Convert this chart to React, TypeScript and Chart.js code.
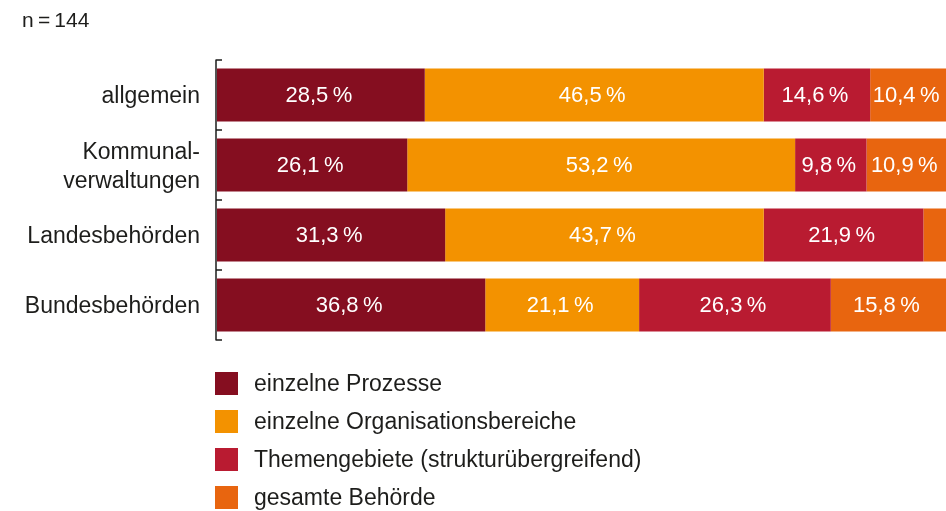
import React, { useEffect, useRef } from "react";
import { Chart, registerables } from "chart.js";

Chart.register(...registerables);

const categories: (string | string[])[] = [
  "allgemein",
  ["Kommunal-", "verwaltungen"],
  "Landesbehörden",
  "Bundesbehörden",
];
const seriesNames = [
  "einzelne Prozesse",
  "einzelne Organisationsbereiche",
  "Themengebiete (strukturübergreifend)",
  "gesamte Behörde",
];
const seriesColors = ["#850e20", "#f39200", "#b91b31", "#e8650f"];
const einzelneProzesse = [28.5, 26.1, 31.3, 36.8];
const einzelneOrganisationsbereiche = [46.5, 53.2, 43.7, 21.1];
const themengebiete = [14.6, 9.8, 21.9, 26.3];
const gesamteBehoerde = [10.4, 10.9, 3.1, 15.8];
const seriesValues = [einzelneProzesse, einzelneOrganisationsbereiche, themengebiete, gesamteBehoerde];
const sampleNote = "n\u2009=\u2009144";

const FONT = "'Liberation Sans', Arial, Helvetica, sans-serif";
const TEXT = "#1d1d1b";

const valueLabels = {
  id: "valueLabels",
  afterDatasetsDraw(chart: any) {
    const ctx = chart.ctx;
    ctx.save();
    ctx.font = `22px ${FONT}`;
    ctx.fillStyle = "#ffffff";
    ctx.textAlign = "center";
    ctx.textBaseline = "middle";
    chart.data.datasets.forEach((ds: any, di: number) => {
      const meta = chart.getDatasetMeta(di);
      meta.data.forEach((bar: any, i: number) => {
        const v = ds.data[i];
        if (v < 5) return;
        const x = (bar.x + bar.base) / 2 - 2;
        ctx.fillText(v.toFixed(1).replace(".", ",") + "\u2009%", x, bar.y + 1);
      });
    });
    ctx.restore();
  },
};

const axisPlugin = {
  id: "axisPlugin",
  afterDatasetsDraw(chart: any) {
    const ctx = chart.ctx;
    const { top, bottom, left } = chart.chartArea;
    ctx.save();
    ctx.strokeStyle = TEXT;
    ctx.lineWidth = 1.5;
    ctx.beginPath();
    ctx.moveTo(left - 1, top);
    ctx.lineTo(left - 1, bottom);
    const n = chart.data.labels.length;
    const step = (bottom - top) / n;
    for (let i = 0; i <= n; i++) {
      const y = top + step * i;
      ctx.moveTo(left - 1.5, y);
      ctx.lineTo(left + 5, y);
    }
    ctx.stroke();

    // category labels
    const yScale = chart.scales.y;
    ctx.font = `23px ${FONT}`;
    ctx.fillStyle = TEXT;
    ctx.textAlign = "right";
    ctx.textBaseline = "middle";
    const lh = 29;
    chart.data.labels.forEach((lab: any, i: number) => {
      const lines = Array.isArray(lab) ? lab : [lab];
      const cy = yScale.getPixelForValue(i) + 2;
      lines.forEach((ln: string, k: number) => {
        const y = cy + (k - (lines.length - 1) / 2) * lh;
        ctx.fillText(ln, left - 17, y);
      });
    });
    ctx.restore();
  },
};

export default function App() {
  const ref = useRef<HTMLCanvasElement>(null);
  useEffect(() => {
    document.body.style.margin = "0";
    const chart = new Chart(ref.current!, {
      type: "bar",
      data: {
        labels: categories,
        datasets: seriesNames.map((name, i) => ({
          label: name,
          data: seriesValues[i],
          backgroundColor: seriesColors[i],
          borderWidth: 0,
          categoryPercentage: 1,
          barPercentage: 53 / 70,
        })),
      },
      options: {
        indexAxis: "y",
        animation: false,
        responsive: false,
        maintainAspectRatio: false,
        layout: { padding: { top: 60, bottom: 171, left: 0, right: 0 } },
        plugins: { legend: { display: false }, tooltip: { enabled: false } },
        scales: {
          x: { stacked: true, min: 0, max: 100, display: false },
          y: {
            stacked: true,
            border: { display: false },
            grid: { display: false },
            ticks: { display: false },
            afterFit: (scale: any) => {
              scale.width = 217;
            },
          },
        },
      },
      plugins: [valueLabels, axisPlugin],
    });
    return () => chart.destroy();
  }, []);

  return (
    <div style={{ position: "relative", width: 946, height: 511, overflow: "hidden", fontFamily: FONT, color: TEXT }}>
      <canvas ref={ref} width={946} height={511} style={{ position: "absolute", left: 0, top: 0 }} />
      <div style={{ position: "absolute", left: 22, top: 8, fontSize: 21 }}>{sampleNote}</div>
      <div style={{ position: "absolute", left: 215, top: 371 }}>
        {seriesNames.map((name, i) => (
          <div key={name} style={{ display: "flex", alignItems: "center", height: 38, marginTop: i === 0 ? -7 : 0 }}>
            <div style={{ width: 23, height: 23, background: seriesColors[i], marginRight: 16, flexShrink: 0 }} />
            <span style={{ fontSize: 23, lineHeight: "23px", whiteSpace: "nowrap" }}>{name}</span>
          </div>
        ))}
      </div>
    </div>
  );
}
